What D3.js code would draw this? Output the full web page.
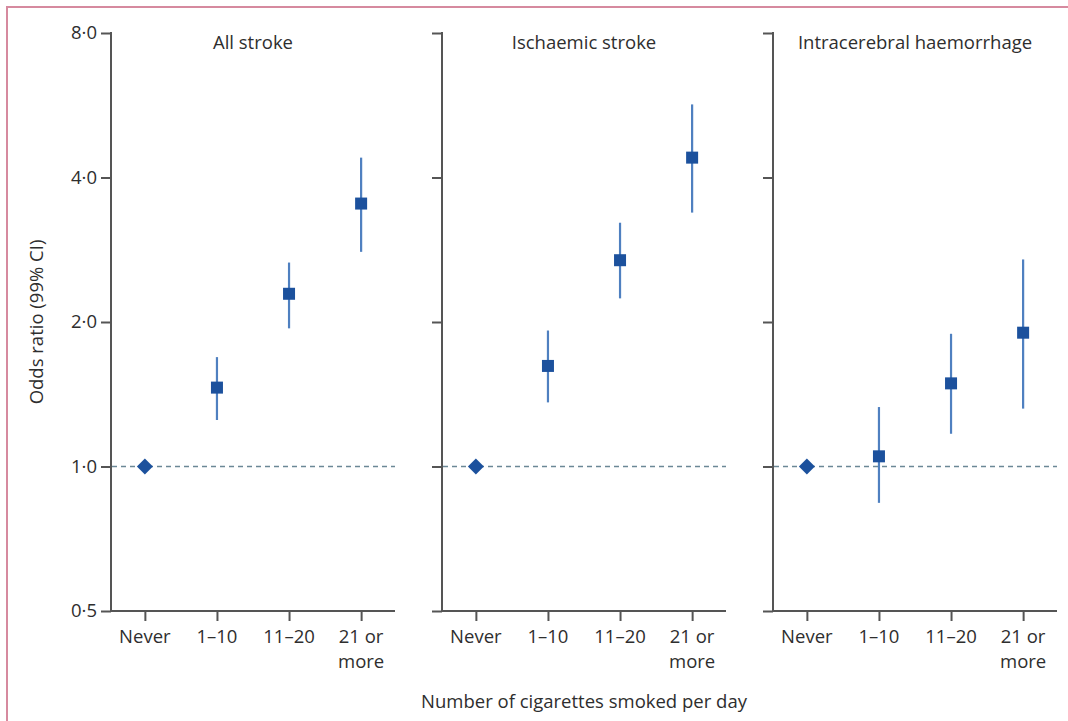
<!DOCTYPE html>
<html>
<head lang="en">
  <title>Smoking and stroke</title>
  <script src="https://d3js.org/d3.v7.min.js" charset="utf-8"></script>
  <style>
    body { margin: 0; background: #fff; }
    text { font-family: 'Open Sans', sans-serif; fill: #2e2e2e; }
  </style>
</head>
<body>
  <script>

    // data
    var categories = ["Never", "1–10", "11–20", "21 or more"];
    var panels = ["All stroke", "Ischaemic stroke", "Intracerebral haemorrhage"];

    var allStroke      = [1.00, 1.46, 2.29, 3.53];
    var allStrokeLow   = [1.00, 1.25, 1.94, 2.80];
    var allStrokeHigh  = [1.00, 1.69, 2.66, 4.40];

    var ischaemic      = [1.00, 1.62, 2.69, 4.40];
    var ischaemicLow   = [1.00, 1.36, 2.24, 3.38];
    var ischaemicHigh  = [1.00, 1.92, 3.22, 5.68];

    var haemorrhage     = [1.00, 1.05, 1.49, 1.90];
    var haemorrhageLow  = [1.00, 0.84, 1.17, 1.32];
    var haemorrhageHigh = [1.00, 1.33, 1.89, 2.70];

    var yTicks = [0.5, 1, 2, 4, 8];
    var yTickLabels = ["0·5", "1·0", "2·0", "4·0", "8·0"];

    var series = [
      { est: allStroke, low: allStrokeLow, high: allStrokeHigh },
      { est: ischaemic, low: ischaemicLow, high: ischaemicHigh },
      { est: haemorrhage, low: haemorrhageLow, high: haemorrhageHigh }
    ];

    var width = 1068;
    var height = 721;
    var fontSize = "18.5px";
    var axisColor = "#555";
    var barColor = "#4f80c0";
    var markColor = "#1c519d";

    var svg = d3.select("body")
      .append("svg")
      .attr("width", width)
      .attr("height", height);

    // pink frame, open at right and bottom
    svg.append("path")
      .attr("d", "M7," + (height + 5) + "V7H" + (width + 5))
      .attr("fill", "none")
      .attr("stroke", "#d68a9f")
      .attr("stroke-width", 2);

    var panelScale = d3.scaleBand()
      .domain(panels)
      .range([111, 1057])
      .paddingInner(0.142);

    var y = d3.scaleLog()
      .base(2)
      .domain([0.5, 8])
      .range([611, 33]);

    var x = d3.scalePoint()
      .domain(categories)
      .range([0, panelScale.bandwidth()])
      .padding(0.47);

    panels.forEach(function(name, i) {
      var g = svg.append("g")
        .attr("transform", "translate(" + panelScale(name) + ",0)");
      var w = panelScale.bandwidth();

      // y axis
      var yAxis = g.append("g")
        .call(d3.axisLeft(y)
          .tickValues(yTicks)
          .tickSize(10)
          .tickPadding(4)
          .tickFormat(function(d, j) { return i === 0 ? yTickLabels[j] : ""; }));
      yAxis.select(".domain").remove();
      yAxis.selectAll("line").attr("stroke", axisColor).attr("stroke-width", 2);
      yAxis.selectAll("text")
        .attr("font-size", fontSize)
        .attr("font-family", "'Open Sans', sans-serif")
        .attr("fill", "#2e2e2e");

      g.append("line")
        .attr("x1", 0).attr("x2", 0)
        .attr("y1", y(8) - 1).attr("y2", y(0.5) + 1)
        .attr("stroke", axisColor)
        .attr("stroke-width", 2);

      // x axis
      var xAxis = g.append("g")
        .attr("transform", "translate(0," + y(0.5) + ")")
        .call(d3.axisBottom(x).tickSize(10).tickFormat(""));
      xAxis.select(".domain").remove();
      xAxis.selectAll("line").attr("stroke", axisColor).attr("stroke-width", 2);

      g.append("line")
        .attr("x1", 0).attr("x2", w)
        .attr("y1", y(0.5)).attr("y2", y(0.5))
        .attr("stroke", axisColor)
        .attr("stroke-width", 2);

      // category labels, "21 or more" on two lines
      g.selectAll(".cat")
        .data(categories)
        .enter().append("text")
          .attr("class", "cat")
          .attr("text-anchor", "middle")
          .attr("font-size", fontSize)
          .attr("y", y(0.5) + 32)
          .each(function(d) {
            var parts = d === "21 or more" ? ["21 or", "more"] : [d];
            var t = d3.select(this);
            parts.forEach(function(p, k) {
              t.append("tspan")
                .attr("x", x(d))
                .attr("dy", k ? 25 : 0)
                .text(p);
            });
          });

      // reference line at OR = 1
      g.append("line")
        .attr("x1", 1).attr("x2", w)
        .attr("y1", y(1)).attr("y2", y(1))
        .attr("stroke", "#6b8896")
        .attr("stroke-width", 1.5)
        .attr("stroke-dasharray", "5,4");

      // panel title
      g.append("text")
        .attr("x", w / 2)
        .attr("y", 49)
        .attr("text-anchor", "middle")
        .attr("font-size", fontSize)
        .text(name);

      var s = series[i];
      var pts = categories.map(function(c, j) {
        return { cat: c, est: s.est[j], low: s.low[j], high: s.high[j] };
      });

      // confidence intervals
      g.selectAll(".ci")
        .data(pts.slice(1))
        .enter().append("line")
          .attr("class", "ci")
          .attr("x1", function(d) { return x(d.cat); })
          .attr("x2", function(d) { return x(d.cat); })
          .attr("y1", function(d) { return y(d.high); })
          .attr("y2", function(d) { return y(d.low); })
          .attr("stroke", barColor)
          .attr("stroke-width", 2.2);

      // estimates: square for smokers
      g.selectAll(".est")
        .data(pts.slice(1))
        .enter().append("rect")
          .attr("class", "est")
          .attr("x", function(d) { return x(d.cat) - 6; })
          .attr("y", function(d) { return y(d.est) - 6; })
          .attr("width", 12)
          .attr("height", 12)
          .attr("fill", markColor);

      // reference group (never smokers): diamond
      g.append("path")
        .datum(pts[0])
        .attr("d", d3.symbol().type(d3.symbolSquare).size(128))
        .attr("transform", function(d) {
          return "translate(" + x(d.cat) + "," + y(d.est) + ") rotate(45)";
        })
        .attr("fill", markColor);
    });

    // axis titles
    svg.append("text")
      .attr("transform", "translate(43," + ((y(8) + y(0.5)) / 2) + ") rotate(-90)")
      .attr("text-anchor", "middle")
      .attr("font-size", fontSize)
      .text("Odds ratio (99% CI)");

    svg.append("text")
      .attr("x", (panelScale.range()[0] + panelScale.range()[1]) / 2)
      .attr("y", 708)
      .attr("text-anchor", "middle")
      .attr("font-size", fontSize)
      .text("Number of cigarettes smoked per day");

  </script>
</body>
</html>
